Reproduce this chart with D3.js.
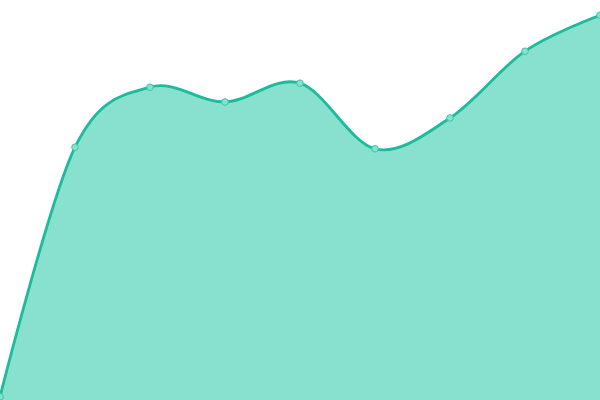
<!DOCTYPE html>
<html>
<head>
<meta charset="utf-8">
<script src="https://cdn.jsdelivr.net/npm/d3@7"></script>
<style>
  body { margin: 0; background: #fff; }
  svg { display: block; }
</style>
</head>
<body>
<div id="chart"></div>
<script>
// data
var labels = ["1", "2", "3", "4", "5", "6", "7", "8", "9"];
var values = [0.8, 63.2, 78.2, 74.5, 79.2, 62.8, 70.5, 87.2, 96.2];

var width = 600, height = 400;

var svg = d3.select("#chart").append("svg")
    .attr("width", width)
    .attr("height", height);

var x = d3.scalePoint()
    .domain(labels)
    .range([0, width]);

var y = d3.scaleLinear()
    .domain([0, 100])
    .range([height, 0]);

var data = labels.map(function(d, i) { return { key: d, value: values[i] }; });

var area = d3.area()
    .x(function(d) { return x(d.key); })
    .y0(height)
    .y1(function(d) { return y(d.value); })
    .curve(d3.curveCardinal);

var line = d3.line()
    .x(function(d) { return x(d.key); })
    .y(function(d) { return y(d.value); })
    .curve(d3.curveCardinal);

svg.append("path")
    .datum(data)
    .attr("d", area)
    .style("fill", "#88e0cf");

svg.append("path")
    .datum(data)
    .attr("d", line)
    .style("fill", "none")
    .style("stroke", "#1abc9c")
    .style("stroke-width", 2.8);

svg.selectAll(".dot")
    .data(data)
  .enter().append("circle")
    .attr("class", "dot")
    .attr("cx", function(d) { return x(d.key); })
    .attr("cy", function(d) { return y(d.value); })
    .attr("r", 3.3)
    .style("fill", "#88e0cf")
    .style("stroke", "#3cc7a8")
    .style("stroke-width", 1);
</script>
</body>
</html>
